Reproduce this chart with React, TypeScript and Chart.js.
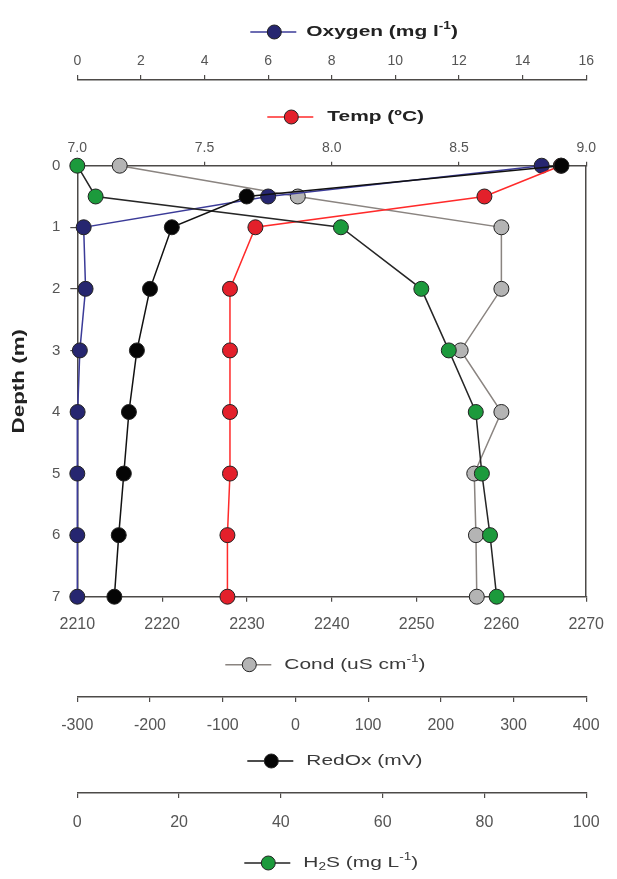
import React, { useEffect, useRef } from "react";
import { Chart, registerables } from "chart.js";

Chart.register(...registerables);

// ---- data ----
const depth = [0, 0.5, 1, 2, 3, 4, 5, 6, 7];
const oxygen = [14.6, 6.0, 0.2, 0.26, 0.08, 0.01, 0, 0, 0];
const temp = [8.9, 8.6, 7.7, 7.6, 7.6, 7.6, 7.6, 7.59, 7.59];
const redox = [366, -67, -170, -200, -218, -229, -236, -243, -249];
const cond = [2215.0, 2236.0, 2260.0, 2260.0, 2255.2, 2260.0, 2256.8, 2257.0, 2257.1];
const h2s = [0, 3.6, 51.8, 67.6, 73.0, 78.3, 79.5, 81.1, 82.4];

const depthTicks = [0, 1, 2, 3, 4, 5, 6, 7];

const FAMILY = "'Liberation Sans', Arial, Helvetica, sans-serif";
const TICK_COLOR = "#555";
const AXIS_COLOR = "#4d4a48";

type Part = { t: string; k?: "sup" | "sub" };
type LegendItem = {
  scale: string;
  dy: number;
  dx: number;
  tx: number;
  fill: string;
  line: string;
  bold: boolean;
  color: string;
  parts: Part[];
};

const legendItems: LegendItem[] = [
  { scale: "xOxy", dy: 32, dx: 197, tx: 229, fill: "#262670", line: "#3b3b98", bold: true, color: "#222",
    parts: [{ t: "Oxygen (mg l" }, { t: "-1", k: "sup" }, { t: ")" }] },
  { scale: "xTemp", dy: 37, dx: 214, tx: 250, fill: "#e3202b", line: "#ff2a2a", bold: true, color: "#222",
    parts: [{ t: "Temp (ºC)" }] },
  { scale: "xCond", dy: 68, dx: 172, tx: 207, fill: "#b4b4b4", line: "#8a8480", bold: false, color: "#3a3a3a",
    parts: [{ t: "Cond (uS cm" }, { t: "-1", k: "sup" }, { t: ")" }] },
  { scale: "xRedox", dy: 64, dx: 194, tx: 229, fill: "#050505", line: "#111", bold: false, color: "#3a3a3a",
    parts: [{ t: "RedOx (mV)" }] },
  { scale: "xH2S", dy: 70, dx: 191, tx: 226, fill: "#1c9a3c", line: "#222", bold: false, color: "#3a3a3a",
    parts: [{ t: "H" }, { t: "2", k: "sub" }, { t: "S (mg L" }, { t: "-1", k: "sup" }, { t: ")" }] },
];

const LEG_SIZE = 15.5;
const LEG_STRETCH = 1.35;

const legendPlugin = {
  id: "profileLegends",
  afterDraw(chart: any) {
    const ctx: CanvasRenderingContext2D = chart.ctx;
    const area = chart.chartArea;
    for (const L of legendItems) {
      const sc = chart.scales[L.scale];
      if (!sc) continue;
      const y = sc.top + L.dy;
      const mx = area.left + L.dx;
      ctx.save();
      ctx.strokeStyle = L.line;
      ctx.lineWidth = 1.5;
      ctx.beginPath();
      ctx.moveTo(mx - 24, y);
      ctx.lineTo(mx + 22, y);
      ctx.stroke();
      ctx.beginPath();
      ctx.arc(mx, y, 7, 0, Math.PI * 2);
      ctx.fillStyle = L.fill;
      ctx.fill();
      ctx.strokeStyle = "#222";
      ctx.lineWidth = 1;
      ctx.stroke();
      ctx.translate(area.left + L.tx, y);
      ctx.scale(LEG_STRETCH, 1);
      ctx.fillStyle = L.color;
      ctx.textBaseline = "middle";
      ctx.textAlign = "left";
      let cx = 0;
      for (const p of L.parts) {
        const size = p.k ? LEG_SIZE * 0.65 : LEG_SIZE;
        ctx.font = `${L.bold ? "bold " : ""}${size}px ${FAMILY}`;
        const oy = p.k === "sup" ? -LEG_SIZE * 0.38 : p.k === "sub" ? LEG_SIZE * 0.3 : 0;
        ctx.fillText(p.t, cx, oy);
        cx += ctx.measureText(p.t).width;
      }
      ctx.restore();
    }
    // y axis title
    ctx.save();
    ctx.translate(20, (area.top + area.bottom) / 2);
    ctx.rotate(-Math.PI / 2);
    ctx.scale(1.4, 1);
    ctx.font = `bold 16px ${FAMILY}`;
    ctx.fillStyle = "#222";
    ctx.textAlign = "center";
    ctx.textBaseline = "middle";
    ctx.fillText("Depth (m)", 0, 0);
    ctx.restore();
  },
};

function xAxis(
  position: "top" | "bottom",
  min: number,
  max: number,
  step: number,
  weight: number,
  tickLen: number,
  pad: number,
  height: number,
  size: number,
  fmt?: (v: number) => string
) {
  return {
    type: "linear",
    position,
    min,
    max,
    weight,
    ticks: {
      stepSize: step,
      padding: pad,
      color: TICK_COLOR,
      font: { family: FAMILY, size },
      autoSkip: false,
      maxRotation: 0,
      callback: (v: any) => (fmt ? fmt(Number(v)) : String(v)),
    },
    grid: {
      display: true,
      drawOnChartArea: false,
      drawTicks: true,
      tickLength: tickLen,
      color: AXIS_COLOR,
      lineWidth: 1.2,
    },
    border: { display: true, color: AXIS_COLOR, width: 1.5 },
    afterFit: (s: any) => {
      s.height = height;
    },
  };
}

function makeDataset(label: string, xs: number[], axis: string, fill: string, line: string, order: number) {
  return {
    label,
    data: xs.map((x, i) => ({ x, y: depth[i] })),
    xAxisID: axis,
    yAxisID: "y",
    showLine: true,
    clip: false,
    borderColor: line,
    borderWidth: 1.5,
    backgroundColor: fill,
    pointBackgroundColor: fill,
    pointBorderColor: "#222",
    pointBorderWidth: 1,
    pointRadius: 7.5,
    order,
  };
}

export default function App() {
  const ref = useRef<HTMLCanvasElement | null>(null);
  useEffect(() => {
    if (!ref.current) return;
    const chart = new Chart(ref.current, {
      type: "scatter",
      data: {
        datasets: [
          makeDataset("RedOx", redox, "xRedox", "#050505", "#111111", 0),
          makeDataset("H2S", h2s, "xH2S", "#1c9a3c", "#262626", 1),
          makeDataset("Temp", temp, "xTemp", "#e3202b", "#ff2a2a", 2),
          makeDataset("Oxygen", oxygen, "xOxy", "#262670", "#3b3b98", 3),
          makeDataset("Cond", cond, "xCond", "#b4b4b4", "#8a8480", 4),
        ] as any,
      },
      options: {
        responsive: false,
        animation: false,
        devicePixelRatio: 1,
        layout: { padding: 0 },
        plugins: { legend: { display: false }, tooltip: { enabled: false } },
        scales: {
          y: {
            type: "linear",
            position: "left",
            reverse: true,
            min: 0,
            max: 7,
            afterBuildTicks: (s: any) => {
              s.ticks = depthTicks.map((v) => ({ value: v }));
            },
            ticks: { padding: 10, color: TICK_COLOR, font: { family: FAMILY, size: 15 } },
            grid: { display: true, drawOnChartArea: false, drawTicks: true, tickLength: 7, color: AXIS_COLOR, lineWidth: 1.2 },
            border: { display: true, color: AXIS_COLOR, width: 1.5 },
            afterFit: (s: any) => {
              s.width = 77.3;
            },
          },
          yR: {
            type: "linear",
            position: "right",
            reverse: true,
            min: 0,
            max: 7,
            ticks: { display: false },
            grid: { display: false },
            border: { display: true, color: AXIS_COLOR, width: 1.5 },
            afterFit: (s: any) => {
              s.width = 27.5;
            },
          },
          xTemp: xAxis("top", 7, 9, 0.5, 0, 4, 5.5, 85.7, 14, (v) => v.toFixed(1)),
          xOxy: xAxis("top", 0, 16, 2, 1, 5, 5.5, 80, 14),
          xCond: xAxis("bottom", 2210, 2270, 10, 0, 5, 13, 100.3, 16),
          xRedox: xAxis("bottom", -300, 400, 100, 1, 5, 14, 96, 16),
          xH2S: xAxis("bottom", 0, 100, 20, 2, 5, 15, 86, 16),
        } as any,
      },
      plugins: [legendPlugin],
    });
    return () => chart.destroy();
  }, []);
  return (
    <div style={{ position: "absolute", left: 0, top: 0, width: 617, height: 879, background: "#fff" }}>
      <canvas ref={ref} width={617} height={879} style={{ display: "block" }} />
    </div>
  );
}
